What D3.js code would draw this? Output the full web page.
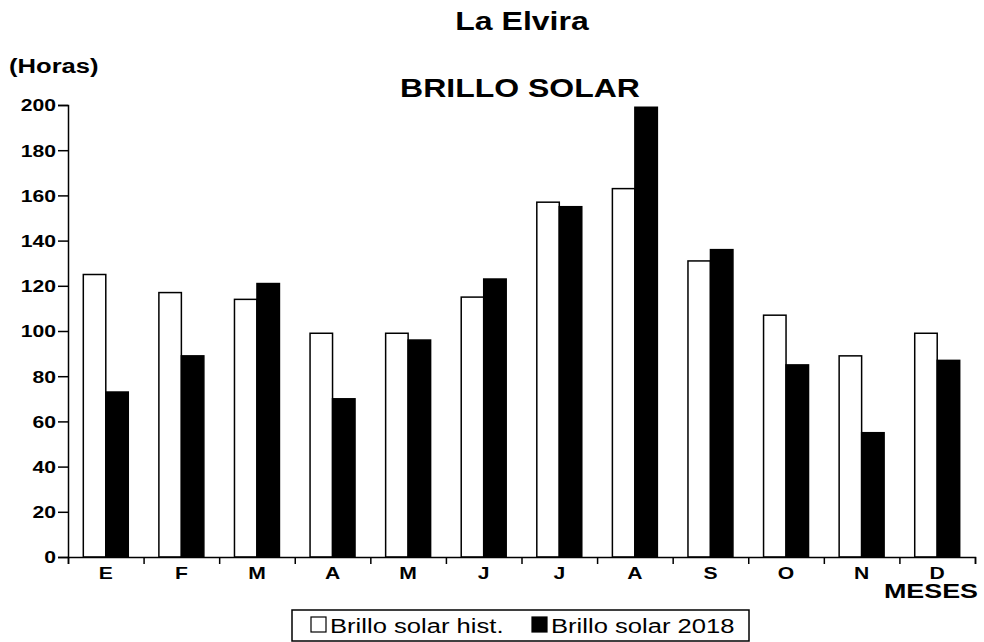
<!DOCTYPE html>
<html>
<head>
<meta charset="utf-8">
<script src="https://cdn.jsdelivr.net/npm/d3@7"></script>
<style>
  html, body { margin: 0; padding: 0; background: #fff; }
  svg { display: block; }
  text { font-family: "Liberation Sans", Arial, sans-serif; fill: #000; }
</style>
</head>
<body>
<svg id="chart" width="984" height="642"></svg>
<script>
const months = ["E","F","M","A","M","J","J","A","S","O","N","D"];
const seriesNames = ["Brillo solar hist.", "Brillo solar 2018"];
const histValues = [125, 117, 114, 99, 99, 115, 157, 163, 131, 107, 89, 99];
const values2018 = [73, 89, 121, 70, 96, 123, 155, 199, 136, 85, 55, 87];
const yTicks = [0, 20, 40, 60, 80, 100, 120, 140, 160, 180, 200];

(function () {
const SX = 1.28; // horizontal stretch of the text in the reference
const svg = d3.select("#chart");

const pLeft = 68, pRight = 975, pTop = 105, pBottom = 557;
const idx = months.map((m, i) => i);

const x0 = d3.scaleBand().domain(idx).range([pLeft, pRight]).paddingInner(0.405).paddingOuter(0.2025);
const x1 = d3.scaleBand().domain([0, 1]).range([0, x0.bandwidth()]).padding(0);
const y = d3.scaleLinear().domain([0, 200]).range([pBottom, pTop]);

function txt(x, yy, s, size, weight, anchor) {
  return svg.append("text")
    .attr("transform", `translate(${x},${yy}) scale(${SX},1)`)
    .attr("font-size", size)
    .attr("font-weight", weight)
    .attr("text-anchor", anchor)
    .text(s);
}

// Titles
txt(522, 30, "La Elvira", 25, "bold", "middle");
txt(520, 97, "BRILLO SOLAR", 25, "bold", "middle");
txt(9, 73, "(Horas)", 20, "bold", "start");
txt(978, 598, "MESES", 21, "bold", "end");

// Bars
const data = idx.map(i => [histValues[i], values2018[i]]);
const groups = svg.append("g").selectAll("g").data(data).join("g")
  .attr("transform", (d, i) => `translate(${x0(i)},0)`);
groups.selectAll("rect").data(d => d.map((v, k) => ({ v, k }))).join("rect")
  .attr("x", d => x1(d.k))
  .attr("y", d => y(d.v))
  .attr("width", x1.bandwidth())
  .attr("height", d => y(0) - y(d.v))
  .attr("fill", d => d.k === 0 ? "#fff" : "#000")
  .attr("stroke", "#000")
  .attr("stroke-width", 1.5);

// Y axis
const yAxis = svg.append("g").attr("transform", `translate(${pLeft},0)`)
  .call(d3.axisLeft(y).tickValues(yTicks).tickSize(10).tickPadding(2).tickFormat(d3.format("d")));
yAxis.select(".domain").attr("stroke", "#000").attr("stroke-width", 1.5);
yAxis.selectAll(".tick line").attr("stroke", "#000").attr("stroke-width", 1.5);
yAxis.selectAll(".tick text")
  .attr("font-family", "Liberation Sans, Arial, sans-serif")
  .attr("font-size", 16.5).attr("font-weight", "bold").attr("fill", "#000")
  .attr("x", -12 / SX)
  .attr("dy", "0.36em")
  .attr("transform", `scale(${SX},1)`);

// X axis: ticks at band boundaries
const xb = d3.scaleLinear().domain([0, 12]).range([pLeft, pRight]);
const xAxis = svg.append("g").attr("transform", `translate(0,${pBottom})`)
  .call(d3.axisBottom(xb).tickValues(d3.range(0, 13)).tickSize(7).tickFormat(""));
xAxis.select(".domain").attr("stroke", "#000").attr("stroke-width", 1.5);
xAxis.selectAll(".tick line").attr("stroke", "#000").attr("stroke-width", 1.5);

const xLab = svg.append("g").attr("transform", `translate(0,${pBottom})`)
  .call(d3.axisBottom(x0).tickSize(0).tickPadding(10).tickFormat(i => months[i]));
xLab.select(".domain").remove();
xLab.selectAll(".tick text")
  .attr("font-family", "Liberation Sans, Arial, sans-serif")
  .attr("font-size", 16.5).attr("font-weight", "bold").attr("fill", "#000")
  .attr("transform", `scale(${SX},1)`)
  .attr("x", 0);

// Legend
const lg = svg.append("g");
lg.append("rect").attr("x", 292).attr("y", 610).attr("width", 457).attr("height", 31)
  .attr("fill", "#fff").attr("stroke", "#000").attr("stroke-width", 1.5);
const legendItems = [
  { name: seriesNames[0], fill: "#fff", sx: 311, tx: 330 },
  { name: seriesNames[1], fill: "#000", sx: 532, tx: 551 }
];
legendItems.forEach(it => {
  lg.append("rect").attr("x", it.sx).attr("y", 617).attr("width", 15).attr("height", 15)
    .attr("fill", it.fill).attr("stroke", "#000").attr("stroke-width", 1.2);
  lg.append("text")
    .attr("transform", `translate(${it.tx},633) scale(${SX},1)`)
    .attr("font-size", 20).attr("font-weight", "normal")
    .text(it.name);
});
})();
</script>
</body>
</html>
